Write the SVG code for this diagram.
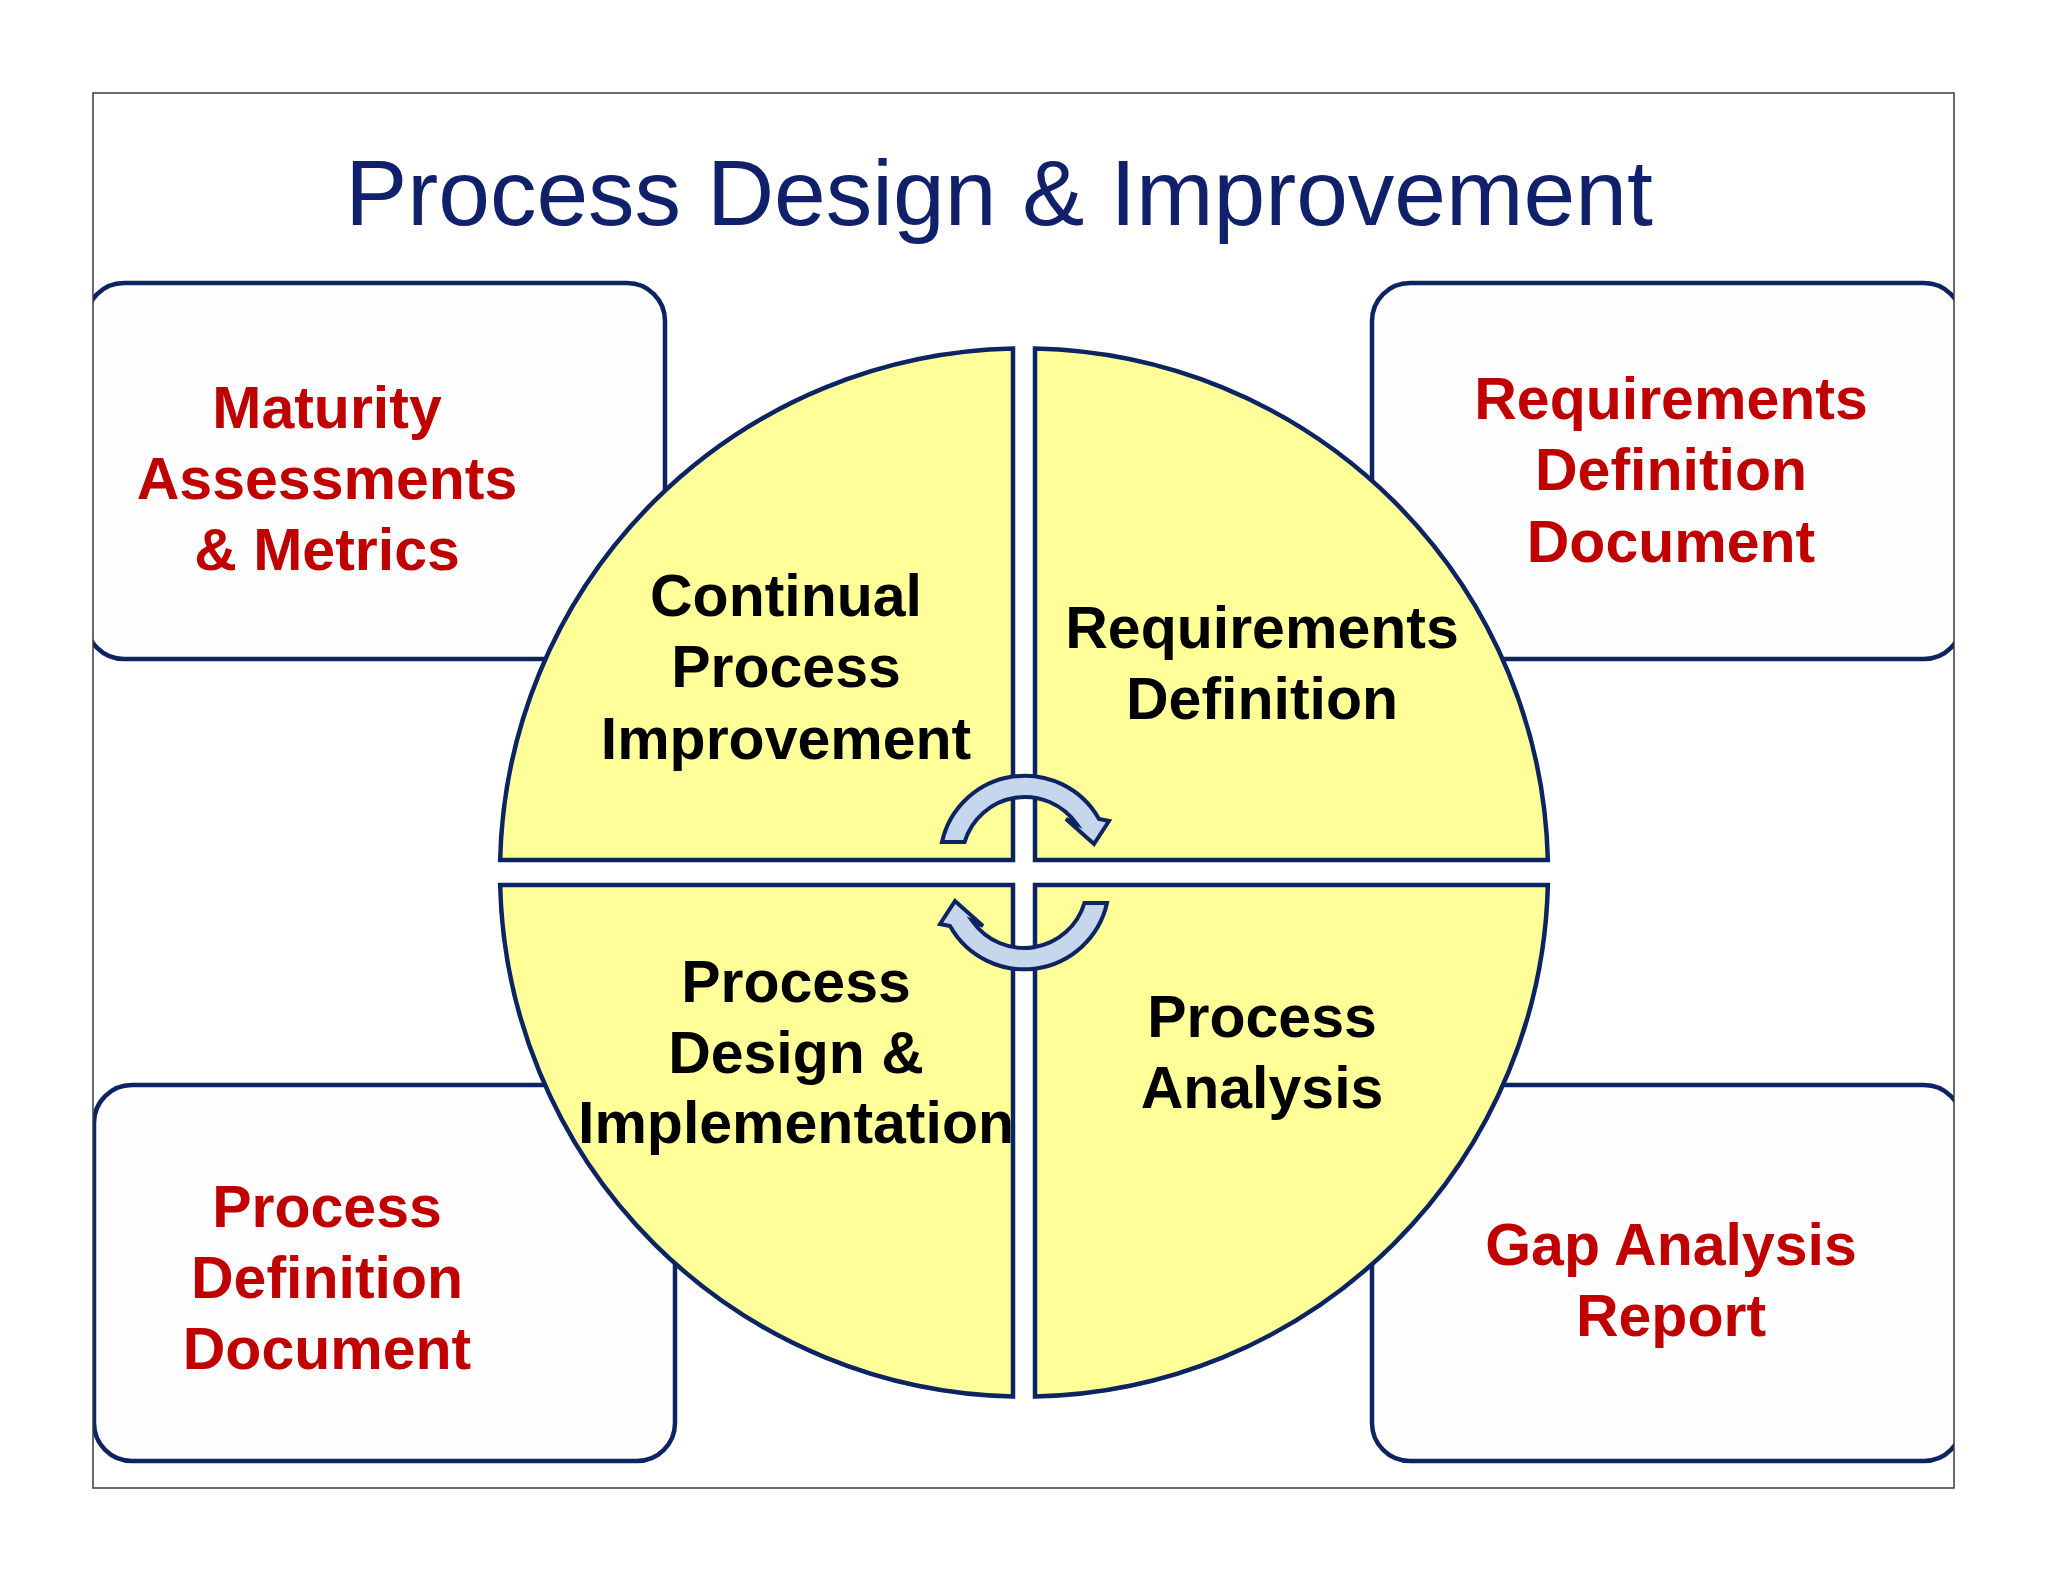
<svg xmlns="http://www.w3.org/2000/svg" width="2048" height="1582" viewBox="0 0 2048 1582">
  <defs>
    <clipPath id="frameClip">
      <rect x="93" y="93" width="1861" height="1395"/>
    </clipPath>
    <style>
      .box { fill: #fefefe; stroke: #0c2461; stroke-width: 4.5; }
      .quad { fill: #ffff99; stroke: #0c2461; stroke-width: 4.5; stroke-linejoin: miter; }
      .arrow { fill: #c6d6ec; stroke: #0c2461; stroke-width: 4; stroke-linejoin: miter; }
      .red { font-family: "Liberation Sans", Arial, sans-serif; font-weight: bold; font-size: 59px; fill: #c00000; text-anchor: middle; }
      .blk { font-family: "Liberation Sans", Arial, sans-serif; font-weight: bold; font-size: 59px; fill: #000000; text-anchor: middle; }
      .title { font-family: "Liberation Sans", Arial, sans-serif; font-size: 93px; fill: #10206a; text-anchor: middle; }
    </style>
  </defs>
  <rect x="0" y="0" width="2048" height="1582" fill="#ffffff"/>

  <text class="title" x="999" y="225">Process Design &amp; Improvement</text>

  <g clip-path="url(#frameClip)">
    <g id="box-maturity">
      <rect class="box" x="86" y="283" width="579" height="376" rx="38" ry="38"/>
      <text class="red" x="327" y="428">Maturity</text>
      <text class="red" x="327" y="499">Assessments</text>
      <text class="red" x="327" y="570">&amp; Metrics</text>
    </g>
    <g id="box-req-doc">
      <rect class="box" x="1372" y="283" width="590" height="376" rx="38" ry="38"/>
      <text class="red" x="1671" y="419">Requirements</text>
      <text class="red" x="1671" y="490">Definition</text>
      <text class="red" x="1671" y="562">Document</text>
    </g>
    <g id="box-proc-doc">
      <rect class="box" x="94" y="1085" width="581" height="376" rx="38" ry="38"/>
      <text class="red" x="327" y="1227">Process</text>
      <text class="red" x="327" y="1298">Definition</text>
      <text class="red" x="327" y="1369">Document</text>
    </g>
    <g id="box-gap">
      <rect class="box" x="1372" y="1085" width="590" height="376" rx="38" ry="38"/>
      <text class="red" x="1671" y="1265">Gap Analysis</text>
      <text class="red" x="1671" y="1336">Report</text>
    </g>
  </g>

  <rect x="93" y="93" width="1861" height="1395" fill="none" stroke="#3a3a3a" stroke-width="1.5"/>

  <g id="quad-cpi">
    <path class="quad" d="M1013,860 L1013,348.6 A524,524 0 0 0 500.15,860 Z"/>
    <text class="blk" x="786" y="616">Continual</text>
    <text class="blk" x="786" y="687">Process</text>
    <text class="blk" x="786" y="759">Improvement</text>
  </g>
  <g id="quad-req">
    <path class="quad" d="M1035,860 L1035,348.6 A524,524 0 0 1 1547.85,860 Z"/>
    <text class="blk" x="1262" y="648">Requirements</text>
    <text class="blk" x="1262" y="719">Definition</text>
  </g>
  <g id="quad-design">
    <path class="quad" d="M1013,885 L500.15,885 A524,524 0 0 0 1013,1396.4 Z"/>
    <text class="blk" x="796" y="1002">Process</text>
    <text class="blk" x="796" y="1073">Design &amp;</text>
    <text class="blk" x="796" y="1143">Implementation</text>
  </g>
  <g id="quad-analysis">
    <path class="quad" d="M1035,885 L1547.85,885 A524,524 0 0 1 1035,1396.4 Z"/>
    <text class="blk" x="1262" y="1037">Process</text>
    <text class="blk" x="1262" y="1108">Analysis</text>
  </g>

  <g id="connectors">
    <path id="arrow-top" class="arrow" d="M942,842 A85,85 0 0 1 1099,819 L1109,821 L1094,844 L1066,819 L1076.6,823.9 A63,63 0 0 0 964.6,842 Z"/>
    <path id="arrow-bottom" class="arrow" transform="rotate(180 1024.5 872.5)" d="M942,842 A85,85 0 0 1 1099,819 L1109,821 L1094,844 L1066,819 L1076.6,823.9 A63,63 0 0 0 964.6,842 Z"/>
  </g>
</svg>
